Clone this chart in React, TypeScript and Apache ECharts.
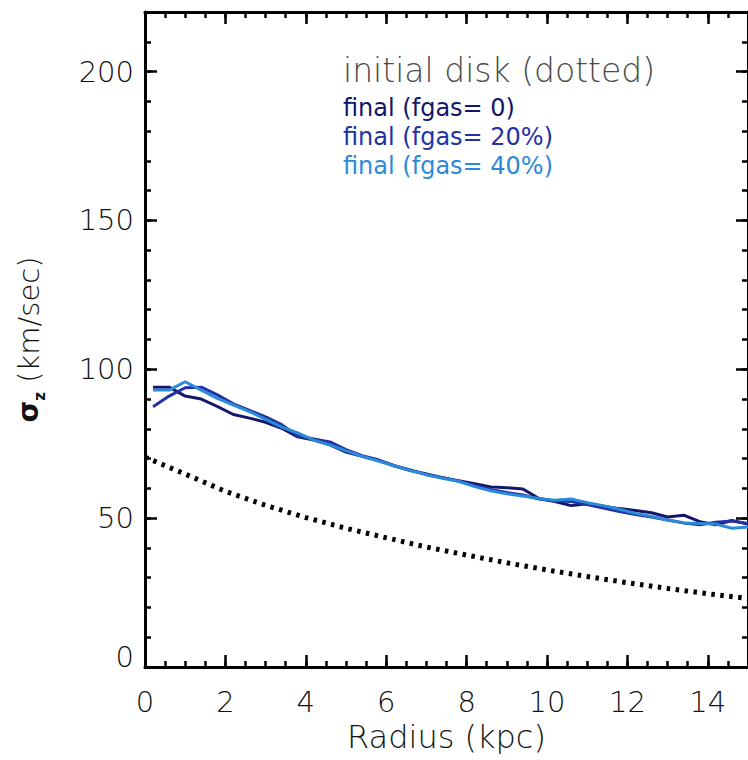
import React, { useEffect, useRef } from "react";
import * as echarts from "echarts";

// Radius (kpc) sampling of the final profiles
const RADIUS_FINAL = [
  0.2, 0.6, 1.0, 1.4, 1.8, 2.2, 2.6, 3.0, 3.4, 3.8, 4.2, 4.6, 5.0, 5.4, 5.8, 6.2, 6.6, 7.0, 7.4,
  7.8, 8.2, 8.6, 9.0, 9.4, 9.8, 10.2, 10.6, 11.0, 11.4, 11.8, 12.2, 12.6, 13.0, 13.4, 13.8, 14.2,
  14.6, 15.0,
];
const SIGMA_FGAS0 = [
  94.0, 94.0, 91.0, 90.0, 87.5, 84.8, 83.6, 82.2, 80.2, 77.3, 76.2, 74.6, 72.2, 70.8, 69.4, 67.6,
  66.0, 64.8, 63.6, 62.6, 61.6, 60.5, 60.2, 59.8, 56.6, 55.6, 54.2, 54.8, 54.0, 53.2, 52.6, 51.8,
  50.4, 51.0, 48.8, 47.8, 49.2, 48.0,
];
const SIGMA_FGAS20 = [
  87.4, 91.0, 93.8, 94.0, 91.4, 88.4, 86.2, 84.0, 81.4, 77.6, 76.6, 75.6, 73.0, 71.0, 69.6, 67.6,
  66.2, 64.6, 63.6, 62.4, 61.0, 59.6, 58.6, 57.8, 56.4, 55.8, 55.6, 54.6, 53.4, 52.2, 51.2, 50.4,
  49.4, 48.4, 47.8, 48.6, 49.0, 48.2,
];
const SIGMA_FGAS40 = [
  93.0, 93.0, 95.8, 93.0, 90.2, 88.0, 85.8, 83.2, 80.6, 78.6, 76.2, 74.6, 72.6, 70.8, 69.2, 67.6,
  66.0, 64.6, 63.4, 62.4, 60.6, 59.2, 58.2, 57.4, 56.6, 56.0, 56.4, 55.2, 54.2, 53.0, 51.6, 50.6,
  49.4, 48.4, 48.2, 48.0, 46.6, 47.0,
];
// Initial disk (dotted)
const RADIUS_INITIAL = [0, 1, 2, 3, 4, 5, 6, 7, 8, 9, 10, 11, 12, 13, 14, 15];
const SIGMA_INITIAL = [
  70.5, 64.8, 59.0, 54.3, 50.2, 46.6, 43.4, 40.3, 37.6, 35.0, 32.6, 30.4, 28.3, 26.4, 24.6, 23.0,
];

const LEGEND_LINES = ["final (fgas= 0)", "final (fgas= 20%)", "final (fgas= 40%)"];
const COLORS = ["#15166b", "#2232a6", "#2b8ad8"];

const zip = (xs: number[], ys: number[]) => xs.map((x, i) => [x, ys[i]]);

const FONT = "DejaVu Sans";

export default function App() {
  const ref = useRef<HTMLDivElement>(null);
  useEffect(() => {
    if (!ref.current) return;
    const chart = echarts.init(ref.current, undefined, { renderer: "svg" });

    const axisLine = { show: true, onZero: false, lineStyle: { color: "#000", width: 3 } };
    const noLine = { show: false, onZero: false };
    const majorTick = { show: true, inside: true, length: 12, lineStyle: { color: "#000", width: 2.5 } };
    const minorTick = { show: true, inside: true, length: 6, lineStyle: { color: "#000", width: 2.5 } };
    const labelStyle = { color: "#111", fontSize: 29, fontFamily: FONT, fontWeight: 200 as any };

    const xBase = { type: "value" as const, min: 0, max: 15, splitLine: { show: false } };
    const yBase = { type: "value" as const, min: 0, max: 220, splitLine: { show: false } };

    const option: any = {
      animation: false,
      grid: { left: 145, top: 12, width: 608, height: 655 },
      xAxis: [
        {
          ...xBase,
          position: "bottom",
          interval: 2,
          axisLine,
          axisTick: majorTick,
          axisLabel: { ...labelStyle, margin: 20, showMaxLabel: false },
          name: "Radius (kpc)",
          nameLocation: "middle",
          nameGap: 53,
          nameTextStyle: { color: "#111", fontSize: 32, fontFamily: FONT, fontWeight: 200 },
        },
        { ...xBase, position: "bottom", interval: 0.5, axisLine: noLine, axisTick: minorTick, axisLabel: { show: false } },
        { ...xBase, position: "top", interval: 2, axisLine, axisTick: majorTick, axisLabel: { show: false } },
        { ...xBase, position: "top", interval: 0.5, axisLine: noLine, axisTick: minorTick, axisLabel: { show: false } },
      ],
      yAxis: [
        {
          ...yBase,
          position: "left",
          interval: 50,
          axisLine,
          axisTick: majorTick,
          axisLabel: {
            ...labelStyle,
            margin: 11,
            showMaxLabel: false,
            formatter: (v: number) => (v === 0 ? "{z|0}" : String(v)),
            rich: { z: { ...labelStyle, padding: [0, 0, 20, 0] } },
          },
          name: "{s|σ}{z|z}{t| (km/sec)}",
          nameLocation: "middle",
          nameGap: 98,
          nameTextStyle: {
            rich: {
              s: { fontSize: 28, fontWeight: "bold", fontFamily: "DejaVu Sans", color: "#111", padding: [0, 0, 5, 0], verticalAlign: "bottom" },
              z: { fontSize: 15, fontWeight: "bold", fontFamily: "DejaVu Sans", color: "#111", verticalAlign: "bottom" },
              t: { fontSize: 29, fontFamily: FONT, fontWeight: 200, color: "#111", padding: [0, 0, 4, 0], verticalAlign: "bottom" },
            },
          },
        },
        { ...yBase, position: "left", interval: 10, axisLine: noLine, axisTick: minorTick, axisLabel: { show: false } },
        { ...yBase, position: "right", interval: 50, axisLine, axisTick: majorTick, axisLabel: { show: false } },
        { ...yBase, position: "right", interval: 10, axisLine: noLine, axisTick: minorTick, axisLabel: { show: false } },
      ],
      series: [
        {
          type: "line",
          name: "initial disk",
          xAxisIndex: 0,
          yAxisIndex: 0,
          data: zip(RADIUS_INITIAL, SIGMA_INITIAL),
          symbol: "none",
          lineStyle: { color: "#000", width: 5, type: [3.5, 5.5], cap: "butt" },
        },
        ...[SIGMA_FGAS0, SIGMA_FGAS20, SIGMA_FGAS40].map((ys, i) => ({
          type: "line",
          name: LEGEND_LINES[i],
          xAxisIndex: 0,
          yAxisIndex: 0,
          data: zip(RADIUS_FINAL, ys),
          symbol: "none",
          lineStyle: { color: COLORS[i], width: 3 },
        })),
      ],
      graphic: [
        {
          type: "text",
          x: 343,
          y: 70,
          style: { text: "initial disk (dotted)", fill: "#4a4a4a", fontSize: 33, fontFamily: FONT, fontWeight: 200, verticalAlign: "middle" },
        },
        ...LEGEND_LINES.map((t, i) => ({
          type: "text",
          x: 343,
          y: 108 + i * 29,
          style: { text: t, fill: COLORS[i], fontSize: 24, fontFamily: FONT, verticalAlign: "middle" },
        })),
      ],
    };

    chart.setOption(option);
    return () => chart.dispose();
  }, []);

  return (
    <div
      ref={ref}
      style={{ position: "fixed", left: 0, top: 0, width: 748, height: 760, background: "#fff" }}
    />
  );
}
